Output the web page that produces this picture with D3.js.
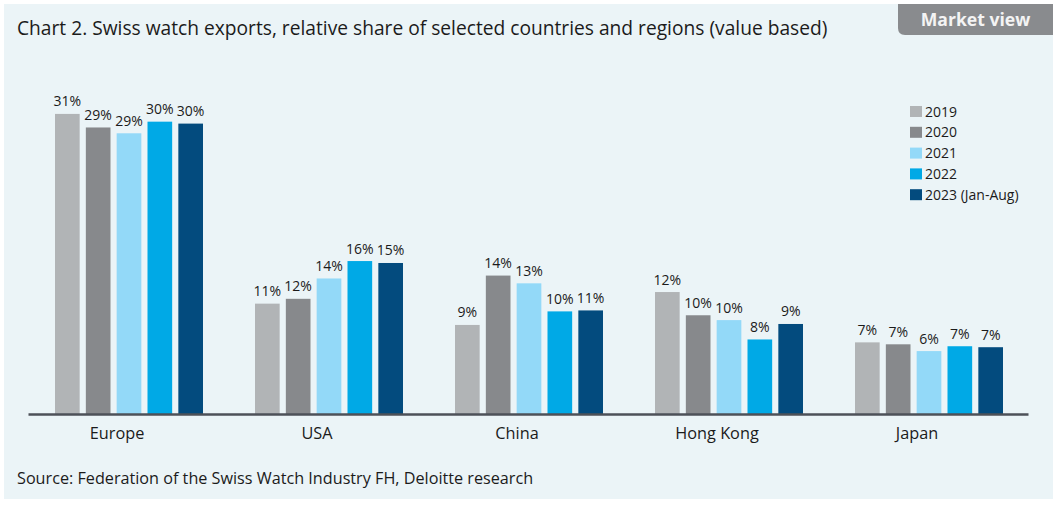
<!DOCTYPE html>
<html><head><meta charset="utf-8">
<script src="https://cdn.jsdelivr.net/npm/d3@7"></script>
<style>
html,body{margin:0;padding:0;background:#fff;}
svg{display:block;font-family:"Open Sans","Noto Sans",sans-serif;}
</style></head>
<body>
<svg id="chart" width="1057" height="508"></svg>
<script>
const categories = ["Europe", "USA", "China", "Hong Kong", "Japan"];
const years = ["2019", "2020", "2021", "2022", "2023 (Jan-Aug)"];
const values2019 = [31.0, 11.4, 9.2, 12.6, 7.4];
const values2020 = [29.6, 11.9, 14.3, 10.2, 7.2];
const values2021 = [29.0, 14.0, 13.5, 9.7, 6.5];
const values2022 = [30.2, 15.8, 10.6, 7.7, 7.0];
const values2023 = [30.0, 15.6, 10.7, 9.3, 6.9];
const labels2019 = ["31%", "11%", "9%", "12%", "7%"];
const labels2020 = ["29%", "12%", "14%", "10%", "7%"];
const labels2021 = ["29%", "14%", "13%", "10%", "6%"];
const labels2022 = ["30%", "16%", "10%", "8%", "7%"];
const labels2023 = ["30%", "15%", "11%", "9%", "7%"];
const colors = ["#b1b4b6", "#87898c", "#93d9f8", "#00a9e6", "#034b7e"];

const series = [values2019, values2020, values2021, values2022, values2023];
const seriesLabels = [labels2019, labels2020, labels2021, labels2022, labels2023];

const svg = d3.select("#chart");

// panel background
svg.append("rect").attr("x", 4).attr("y", 4).attr("width", 1049).attr("height", 495).attr("fill", "#ebf4f7");

// Market view tab
svg.append("path")
  .attr("d", "M898,4 H1053 V35 H905 Q898,35 898,28 Z")
  .attr("fill", "#898b8e");
svg.append("text").attr("x", 975.5).attr("y", 26).attr("text-anchor", "middle")
  .attr("fill", "#f4f4f4").attr("font-size", 17.6).attr("font-weight", 700)
  .text("Market view");

// title
svg.append("text").attr("x", 17).attr("y", 35).attr("fill", "#1b1b1b")
  .attr("font-size", 19.2).attr("font-weight", 500)
  .text("Chart 2. Swiss watch exports, relative share of selected countries and regions (value based)");

// source
svg.append("text").attr("x", 17).attr("y", 484).attr("fill", "#1b1b1b")
  .attr("font-size", 16.2)
  .text("Source: Federation of the Swiss Watch Industry FH, Deloitte research");

const x0 = d3.scaleBand().domain(categories).range([28, 1028]).paddingInner(0).paddingOuter(0);
const x1 = d3.scaleBand().domain(d3.range(5)).range([27, 175]).paddingInner(0.2).paddingOuter(0);
const y = d3.scaleLinear().domain([0, 34]).range([414, 414 - 34 * 9.68]);

const groups = svg.append("g").selectAll("g").data(categories).join("g")
  .attr("transform", d => `translate(${x0(d)},0)`);

groups.each(function(cat, ci) {
  const g = d3.select(this);
  series.forEach((s, si) => {
    g.append("rect")
      .attr("x", x1(si)).attr("width", x1.bandwidth())
      .attr("y", y(s[ci])).attr("height", y(0) - y(s[ci]))
      .attr("fill", colors[si]);
    g.append("text")
      .attr("x", x1(si) + x1.bandwidth() / 2).attr("y", y(s[ci]) - 7.5)
      .attr("text-anchor", "middle").attr("font-size", 14).attr("fill", "#1b1b1b")
      .text(seriesLabels[si][ci]);
  });
});

// axis
const axis = d3.axisBottom(x0).tickSize(0).tickPadding(13);
const ax = svg.append("g").attr("transform", `translate(0,${y(0)})`).call(axis);
ax.select(".domain").attr("stroke", "#4d5158").attr("stroke-width", 2.5);
ax.selectAll(".tick text").attr("font-size", 16.3).attr("fill", "#1b1b1b")
  .attr("font-family", "'Open Sans','Noto Sans',sans-serif")
  .attr("dx", -11);

// legend
const legend = svg.append("g").attr("transform", "translate(910,106)");
years.forEach((yr, i) => {
  const row = legend.append("g").attr("transform", `translate(0,${i * 20.8})`);
  row.append("rect").attr("width", 12).attr("height", 11).attr("fill", colors[i]);
  row.append("text").attr("x", 15).attr("y", 10.5).attr("font-size", 14).attr("fill", "#1b1b1b").text(yr);
});
</script>
</body></html>
